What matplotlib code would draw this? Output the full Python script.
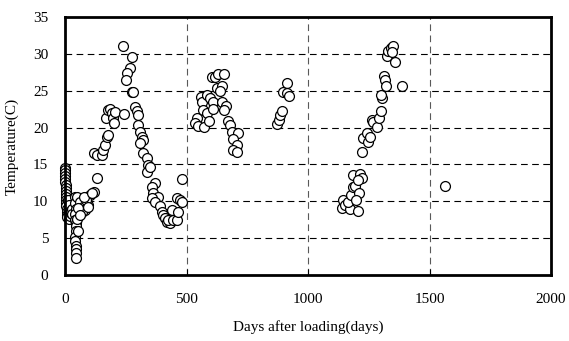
import matplotlib
matplotlib.use("Agg")
import matplotlib.pyplot as plt

days = [0, 0, 1, 1, 2, 2, 3, 3, 4, 4, 5, 5, 6, 6, 7, 8, 9, 10,
        12, 15, 16, 18, 20, 22, 24, 26, 28, 30,
        40, 42, 44, 41, 43, 45, 46, 44, 42, 43, 44, 45, 46, 47, 53, 50,
        49, 62, 74, 82, 95, 90, 103, 119, 132, 70, 53, 60, 87, 80, 95, 110,
        119, 132, 152, 156, 164, 173, 175,
        169, 177, 185, 193, 197, 201, 206, 243,
        238, 275, 267, 255, 251, 275, 280,
        288, 296, 300, 300, 308, 317, 321, 308, 321, 337, 341, 337, 350,
        370, 358, 362, 382, 358, 370, 391, 399, 403, 411, 419, 432, 424, 444,
        440, 461, 465, 461, 473, 481, 481,
        543, 535, 547, 572, 559, 563, 567, 584, 592, 584, 596, 609, 609, 604,
        617, 629, 654, 625, 646, 637, 646, 662, 654, 670, 678, 687, 711, 691,
        707, 691, 707,
        872, 880, 884, 892, 896, 913, 913, 921,
        1139, 1143, 1151, 1172, 1164, 1176, 1184, 1192, 1184, 1213, 1221, 1205,
        1209, 1197, 1205,
        1221, 1225, 1242, 1246, 1254, 1262, 1266, 1283, 1291, 1299, 1303, 1299,
        1312, 1316, 1320, 1324, 1328, 1340, 1349, 1345, 1357, 1386,
        1562]

temps = [14.5, 14.2, 13.8, 13.4, 13.0, 12.6, 12.2, 11.8, 11.4, 11.0, 10.6, 10.2, 9.8, 9.4, 9.0, 8.6, 8.2, 7.9,
         10.2, 9.5, 7.6, 8.5, 8.2, 8.0, 8.4, 8.7, 9.0, 8.3,
         10.6, 9.8, 9.0, 8.3, 7.5, 7.0, 6.6, 6.0, 5.2, 4.6, 4.0, 3.5, 3.0, 2.3, 6.0, 7.6,
         10.6, 9.9, 9.2, 8.8, 9.5, 10.6, 10.9, 11.3, 13.2, 8.5, 9.1, 8.1, 10.2, 10.6, 9.2, 11.1,
         16.6, 16.3, 16.3, 17.0, 17.6, 18.7, 19.0,
         21.3, 22.4, 22.5, 22.0, 21.3, 20.6, 22.1, 21.8,
         31.1, 29.6, 28.1, 27.4, 26.5, 24.8, 24.8,
         22.8, 22.3, 21.7, 20.4, 19.4, 18.7, 18.3, 17.9, 16.6, 15.9, 14.9, 14.0, 14.7,
         12.5, 11.9, 11.1, 10.6, 10.4, 9.9, 9.4, 8.5, 8.1, 7.7, 7.2, 7.0, 7.5, 7.5,
         8.8, 7.5, 8.5, 10.4, 10.2, 13.0, 9.9,
         21.3, 20.6, 20.2, 20.1, 24.2, 23.5, 22.4, 22.0, 20.9, 24.4, 24.0, 23.5, 22.5, 26.9,
         26.9, 27.3, 27.3, 25.4, 25.6, 25.0, 23.5, 22.9, 22.4, 20.9, 20.4, 19.4, 19.3, 18.5,
         17.6, 17.0, 16.7,
         20.5, 21.0, 21.7, 22.3, 24.8, 26.1, 24.7, 24.3,
         9.1, 10.2, 9.5, 9.0, 9.9, 10.9, 11.9, 12.1, 13.6, 13.7, 13.2, 12.9,
         11.1, 10.2, 8.7,
         16.7, 18.6, 19.3, 18.0, 18.7, 21.0, 20.8, 20.1, 21.3, 22.3, 24.0, 24.4,
         27.0, 26.5, 25.6, 29.7, 30.4, 30.8, 31.1, 30.3, 28.9, 25.6,
         12.1]

x_ticks = [0, 500, 1000, 1500, 2000]
y_ticks = [0, 5, 10, 15, 20, 25, 30, 35]

plt.rcParams['font.family'] = ['Liberation Serif', 'DejaVu Serif']

fig = plt.figure(figsize=(5.69, 3.41), dpi=100)
ax = fig.add_axes([65/569, 1-275/341, (551-65)/569, (275-17)/341])

ax.set_xlim(0, 2000)
ax.set_ylim(0, 35)
ax.set_xticks(x_ticks)
ax.set_yticks(y_ticks)

for y in y_ticks[1:-1]:
    ax.axhline(y, color='black', lw=0.8, dashes=(6, 4), zorder=1)
for x in x_ticks[1:-1]:
    ax.axvline(x, color='0.35', lw=0.8, dashes=(6, 4), zorder=1)

ax.plot(days, temps, linestyle='none', marker='o', markersize=7.1,
        markerfacecolor='white', markeredgecolor='black', markeredgewidth=0.9,
        zorder=3, clip_on=False)

for s in ax.spines.values():
    s.set_linewidth(2.0)
    s.set_zorder(4)

ax.tick_params(axis='x', direction='in', length=4, width=0.8, labelsize=11, pad=13)
ax.tick_params(axis='y', direction='in', length=0, labelsize=11, pad=12)

ax.set_xlabel('Days after loading(days)', fontsize=11, labelpad=10)
ax.set_ylabel('Temperature(C)', fontsize=11, labelpad=10)

fig.savefig('out.png', dpi=100)
